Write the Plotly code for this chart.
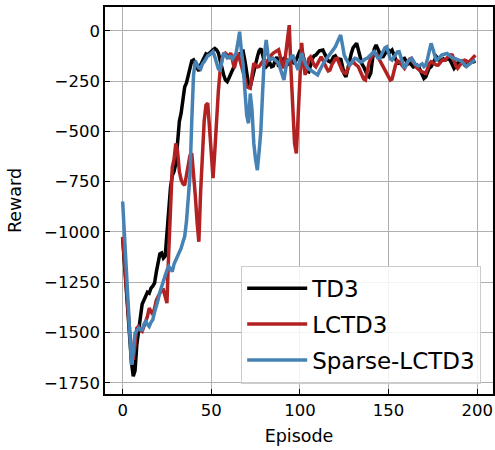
import plotly.graph_objects as go

td3 = [
    -1030, -1150, -1280, -1420, -1540, -1650, -1718, -1690, -1560, -1490,
    -1420, -1360, -1340, -1320, -1300, -1305, -1280, -1270, -1255, -1200,
    -1150, -1110, -1105, -1130, -1120, -1010, -880, -780, -720, -700,
    -660, -560, -450, -410, -330, -280, -260, -220, -200, -150,
    -145, -165, -180, -200, -170, -150, -130, -115, -120, -110,
    -105, -95, -88, -95, -110, -150, -190, -220, -245, -253,
    -235, -215, -204, -175, -140, -121, -115, -108, -104, -150,
    -220, -265, -278, -240, -190, -162, -130, -100, -88, -120,
    -160, -179, -170, -160, -179, -175, -150, -130, -179, -165,
    -150, -138, -140, -155, -165, -158, -150, -165, -140, -115,
    -100, -96, -130, -175, -200, -204, -170, -140, -125, -121,
    -110, -100, -98, -96, -115, -135, -150, -155, -146, -130,
    -125, -140, -150, -137, -175, -215, -229, -190, -140, -113,
    -85, -70, -62, -95, -140, -165, -179, -200, -220, -229,
    -210, -140, -90, -71, -90, -115, -130, -129, -115, -100,
    -96, -105, -96, -120, -150, -162, -162, -150, -140, -137,
    -150, -165, -160, -171, -180, -175, -170, -179, -200, -225,
    -237, -230, -200, -185, -179, -160, -140, -129, -140, -150,
    -146, -140, -146, -140, -137, -150, -170, -187, -175, -160,
    -154, -150, -160, -171, -165, -160, -154, -150, -154, -150,
]

lctd3 = [
    -1025, -1150, -1280, -1400, -1500, -1580, -1636, -1560, -1478, -1470,
    -1490, -1495, -1470, -1445, -1420, -1379, -1395, -1412, -1380, -1340,
    -1321, -1305, -1290, -1288, -1330, -1354, -1100, -900, -680, -640,
    -560, -600, -700, -740, -760, -768, -720, -660, -620, -609,
    -700, -820, -950, -1049, -800, -600, -450, -370, -360, -480,
    -620, -733, -600, -420, -300, -200, -140, -115, -111, -120,
    -130, -110, -150, -186, -150, -111, -140, -180, -201, -240,
    -278, -282, -286, -220, -162, -170, -180, -178, -165, -153,
    -150, -160, -145, -130, -120, -111, -105, -100, -95, -130,
    -170, -186, -120, -40, 28, -200, -360, -560, -610, -430,
    -200, -60, -160, -220, -180, -140, -130, -150, -170, -179,
    -160, -140, -130, -146, -170, -185, -200, -195, -170, -150,
    -140, -137, -160, -185, -200, -210, -212, -190, -170, -162,
    -150, -165, -175, -179, -200, -225, -240, -245, -200, -160,
    -137, -120, -110, -113, -130, -150, -165, -179, -195, -215,
    -235, -245, -240, -200, -170, -150, -154, -165, -180, -187,
    -170, -150, -140, -137, -150, -170, -185, -195, -200, -205,
    -210, -212, -190, -165, -154, -160, -165, -170, -171, -160,
    -150, -145, -146, -135, -125, -120, -121, -150, -175, -187,
    -175, -160, -150, -146, -150, -160, -150, -135, -125, -121,
]

sparse_lctd3 = [
    -849, -1000, -1150, -1320, -1500, -1661, -1600, -1503, -1490, -1478,
    -1485, -1487, -1460, -1445, -1460, -1470, -1450, -1437, -1400, -1360,
    -1338, -1300, -1272, -1240, -1205, -1190, -1172, -1185, -1197, -1160,
    -1140, -1123, -1100, -1081, -1050, -1023, -950, -850, -720, -450,
    -220, -150, -165, -185, -190, -165, -154, -140, -125, -120,
    -110, -104, -130, -170, -190, -195, -150, -111, -120, -135,
    -130, -129, -140, -125, -111, -60, -5, -100, -170, -300,
    -420, -460, -312, -395, -560, -640, -693, -600, -494, -300,
    -120, -46, -120, -145, -140, -137, -145, -155, -162, -190,
    -225, -245, -190, -150, -145, -135, -120, -150, -180, -195,
    -150, -111, -140, -165, -180, -190, -195, -200, -205, -210,
    -220, -200, -180, -165, -150, -140, -128, -120, -110, -95,
    -80, -60, -35, -21, -70, -121, -140, -160, -171, -160,
    -145, -137, -140, -150, -155, -154, -145, -140, -137, -130,
    -120, -110, -104, -120, -135, -137, -120, -100, -85, -80,
    -110, -140, -146, -130, -115, -105, -104, -130, -165, -187,
    -170, -150, -145, -137, -150, -165, -170, -175, -170, -165,
    -178, -170, -140, -100, -63, -90, -130, -150, -140, -130,
    -121, -118, -115, -113, -120, -128, -135, -137, -140, -145,
    -146, -150, -160, -170, -178, -171, -162, -155, -150, -146,
]

episodes = list(range(len(td3)))

series_names = ["TD3", "LCTD3", "Sparse-LCTD3"]
series_values = [td3, lctd3, sparse_lctd3]
series_colors = ["#000000", "#b22222", "#4682b4"]

x_ticks = [0, 50, 100, 150, 200]
y_ticks = [0, -250, -500, -750, -1000, -1250, -1500, -1750]

FONT = "DejaVu Sans"

fig = go.Figure()
for i, (name, vals, col) in enumerate(zip(series_names, series_values, series_colors)):
    fig.add_trace(go.Scatter(
        x=episodes, y=vals, mode="lines", name=name,
        line=dict(color=col, width=3.5),
        legendgroup=f"g{i}",
    ))

axis_common = dict(
    showline=True, linecolor="black", linewidth=1.6, mirror=True,
    showgrid=True, gridcolor="#b0b0b0", gridwidth=1.3,
    ticks="inside", ticklen=5, tickwidth=1.2, tickcolor="black",
    zeroline=False, automargin=False,
    tickfont=dict(family=FONT, size=16.5, color="black"),
)

fig.update_layout(
    width=495, height=450,
    margin=dict(l=105, r=2, t=7, b=56),
    paper_bgcolor="white", plot_bgcolor="white",
    font=dict(family=FONT, color="black"),
    showlegend=True,
    legend=dict(
        x=0.969, y=0.027, xanchor="right", yanchor="bottom",
        bgcolor="rgba(255,255,255,0.85)", bordercolor="#cccccc", borderwidth=1.2,
        font=dict(family=FONT, size=23, color="black"),
        traceorder="grouped", tracegroupgap=3, itemwidth=60,
        entrywidth=172, entrywidthmode="pixels",
    ),
)

fig.update_xaxes(
    range=[-9.95, 208.95], tickvals=x_ticks,
    title=dict(text="Episode", font=dict(family=FONT, size=17.5), standoff=11),
    **axis_common,
)
fig.update_yaxes(
    range=[-1806, 118], tickvals=y_ticks,
    ticktext=[str(v).replace("-", "\u2212") for v in y_ticks],
    title=dict(text="Reward", font=dict(family=FONT, size=17.5), standoff=18),
    **axis_common,
)

fig.write_html(
    "out.html",
    config={"displayModeBar": False},
    post_script="document.body.style.margin='0';document.body.style.overflow='hidden';",
)
